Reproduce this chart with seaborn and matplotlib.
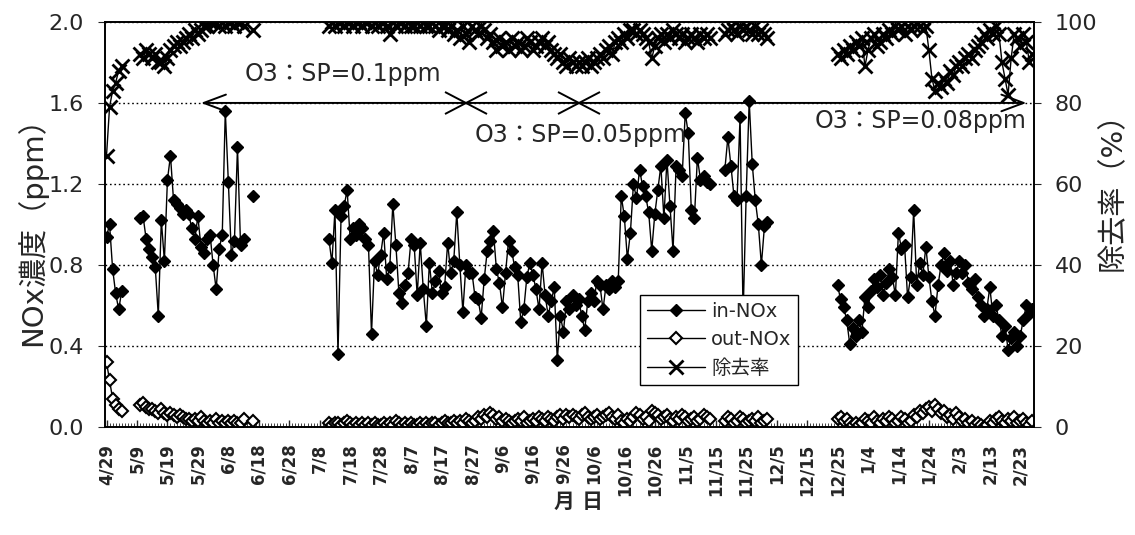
import numpy as np
import pandas as pd
import matplotlib
matplotlib.use("Agg")
import matplotlib.pyplot as plt
import seaborn as sns
from matplotlib.lines import Line2D
from matplotlib.markers import MarkerStyle
from matplotlib.transforms import Affine2D

# ---------------- data (one value per day, 4/29 ... 2/27; None = no data) ----------------
START_DATE = "2001-04-29"
N_DAYS = 305
TICK_LABELS = ["4/29", "5/9", "5/19", "5/29", "6/8", "6/18", "6/28", "7/8", "7/18", "7/28",
               "8/7", "8/17", "8/27", "9/6", "9/16", "9/26", "10/6", "10/16", "10/26", "11/5",
               "11/15", "11/25", "12/5", "12/15", "12/25", "1/4", "1/14", "1/24", "2/3", "2/13",
               "2/23"]
_ = None
IN_NOX = [
    0.94, 1.00, 0.78, 0.66, 0.58, 0.67, _, _, _, _,
    _, 1.03, 1.04, 0.93, 0.88, 0.84, 0.79, 0.55, 1.02, 0.82,
    1.22, 1.34, 1.12, 1.10, 1.08, 1.05, 1.07, 1.05, 0.98, 0.93,
    1.04, 0.89, 0.86, 0.93, 0.95, 0.80, 0.68, 0.88, 0.95, 1.56,
    1.21, 0.85, 0.92, 1.38, 0.90, 0.93, _, _, 1.14, _,
    _, _, _, _, _, _, _, _, _, _,
    _, _, _, _, _, _, _, _, _, _,
    _, _, _, 0.93, 0.81, 1.07, 0.36, 1.04, 1.09, 1.17,
    0.93, 0.98, 0.95, 1.00, 0.98, 0.93, 0.90, 0.46, 0.82, 0.75,
    0.85, 0.96, 0.73, 0.79, 1.10, 0.90, 0.66, 0.61, 0.70, 0.76,
    0.93, 0.90, 0.65, 0.91, 0.68, 0.50, 0.81, 0.66, 0.72, 0.77,
    0.66, 0.69, 0.91, 0.76, 0.82, 1.06, 0.80, 0.57, 0.80, 0.76,
    0.76, 0.64, 0.63, 0.54, 0.73, 0.87, 0.92, 0.97, 0.78, 0.71,
    0.59, 0.76, 0.92, 0.87, 0.79, 0.75, 0.52, 0.58, 0.74, 0.81,
    0.75, 0.68, 0.58, 0.81, 0.65, 0.55, 0.62, 0.69, 0.33, 0.55,
    0.47, 0.62, 0.58, 0.65, 0.60, 0.63, 0.55, 0.48, 0.62, 0.66,
    0.62, 0.72, 0.70, 0.58, 0.70, 0.68, 0.72, 0.69, 0.72, 1.14,
    1.04, 0.83, 0.96, 1.20, 1.13, 1.27, 1.19, 1.14, 1.06, 0.87,
    1.05, 1.17, 1.29, 1.03, 1.32, 1.09, 0.87, 1.29, 1.27, 1.24,
    1.55, 1.45, 1.07, 1.03, 1.33, 1.22, 1.24, 1.21, 1.20, _,
    _, _, _, 1.27, 1.43, 1.29, 1.14, 1.12, 1.53, 0.55,
    1.14, 1.61, 1.30, 1.12, 1.00, 0.80, 0.99, 1.01, _, _,
    _, _, _, _, _, _, _, _, _, _,
    _, _, _, _, _, _, _, _, _, _,
    0.70, 0.63, 0.59, 0.53, 0.41, 0.49, 0.45, 0.53, 0.47, 0.64,
    0.59, 0.67, 0.73, 0.69, 0.75, 0.65, 0.71, 0.78, 0.74, 0.65,
    0.96, 0.88, 0.90, 0.64, 0.74, 1.07, 0.70, 0.81, 0.75, 0.89,
    0.74, 0.62, 0.55, 0.70, 0.80, 0.86, 0.77, 0.82, 0.70, 0.76,
    0.82, 0.76, 0.80, 0.71, 0.68, 0.73, 0.64, 0.60, 0.55, 0.58,
    0.69, 0.55, 0.60, 0.53, 0.45, 0.50, 0.38, 0.44, 0.47, 0.40,
    0.45, 0.53, 0.60, 0.56, 0.58,
]
OUT_NOX = [
    0.32, 0.23, 0.14, 0.11, 0.09, 0.08, _, _, _, _,
    _, 0.11, 0.12, 0.10, 0.09, 0.09, 0.08, 0.07, 0.09, 0.07,
    0.06, 0.07, 0.06, 0.05, 0.06, 0.05, 0.04, 0.04, 0.03, 0.04,
    0.03, 0.05, 0.03, 0.02, 0.03, 0.02, 0.04, 0.02, 0.03, 0.02,
    0.03, 0.02, 0.03, 0.02, 0.02, 0.04, _, _, 0.03, _,
    _, _, _, _, _, _, _, _, _, _,
    _, _, _, _, _, _, _, _, _, _,
    _, _, _, 0.02, 0.01, 0.02, 0.02, 0.01, 0.02, 0.03,
    0.02, 0.01, 0.02, 0.01, 0.02, 0.01, 0.02, 0.01, 0.02, 0.01,
    0.01, 0.02, 0.01, 0.02, 0.01, 0.03, 0.02, 0.01, 0.02, 0.01,
    0.02, 0.01, 0.01, 0.02, 0.01, 0.02, 0.01, 0.02, 0.02, 0.01,
    0.02, 0.03, 0.02, 0.02, 0.03, 0.02, 0.03, 0.02, 0.04, 0.03,
    0.02, 0.03, 0.05, 0.04, 0.06, 0.05, 0.07, 0.06, 0.04, 0.05,
    0.03, 0.04, 0.03, 0.02, 0.03, 0.04, 0.03, 0.05, 0.02, 0.03,
    0.04, 0.03, 0.05, 0.04, 0.03, 0.05, 0.04, 0.03, 0.05, 0.06,
    0.04, 0.06, 0.05, 0.06, 0.05, 0.04, 0.06, 0.07, 0.05, 0.04,
    0.05, 0.06, 0.04, 0.05, 0.06, 0.07, 0.05, 0.04, 0.06, 0.03,
    0.02, 0.04, 0.03, 0.05, 0.07, 0.06, 0.04, 0.05, 0.03, 0.08,
    0.07, 0.06, 0.04, 0.05, 0.06, 0.04, 0.03, 0.05, 0.04, 0.06,
    0.05, 0.03, 0.04, 0.05, 0.03, 0.04, 0.06, 0.05, 0.04, _,
    _, _, _, 0.03, 0.05, 0.04, 0.02, 0.03, 0.05, 0.04,
    0.02, 0.03, 0.04, 0.03, 0.05, 0.02, 0.03, 0.04, _, _,
    _, _, _, _, _, _, _, _, _, _,
    _, _, _, _, _, _, _, _, _, _,
    0.04, 0.05, 0.03, 0.04, 0.02, 0.01, 0.02, 0.01, 0.02, 0.04,
    0.03, 0.02, 0.05, 0.03, 0.02, 0.04, 0.03, 0.05, 0.04, 0.02,
    0.03, 0.05, 0.04, 0.02, 0.03, 0.06, 0.05, 0.08, 0.07, 0.09,
    0.10, 0.08, 0.11, 0.09, 0.07, 0.08, 0.05, 0.06, 0.04, 0.07,
    0.05, 0.03, 0.04, 0.02, 0.03, 0.01, 0.02, 0.01, 0.00, 0.01,
    0.03, 0.02, 0.04, 0.05, 0.03, 0.02, 0.04, 0.03, 0.05, 0.02,
    0.03, 0.04, 0.02, 0.01, 0.03,
]
REMOVAL = [
    67, 79, 83, 85, 88, 89, _, _, _, _,
    _, 92, 91, 93, 92, 91, 92, 90, 90, 89,
    91, 93, 94, 95, 94, 95, 96, 97, 96, 98,
    97, 98, 99, 99, 100, 100, 100, 99, 100, 99,
    100, 100, 99, 100, 100, 99, _, _, 98, _,
    _, _, _, _, _, _, _, _, _, _,
    _, _, _, _, _, _, _, _, _, _,
    _, _, _, 99, 100, 99, 100, 100, 99, 100,
    100, 99, 100, 100, 99, 100, 100, 99, 100, 99,
    100, 100, 99, 97, 100, 99, 100, 100, 99, 100,
    99, 99, 100, 99, 100, 99, 99, 100, 99, 98,
    99, 99, 98, 99, 97, 98, 96, 99, 97, 95,
    99, 98, 97, 99, 98, 96, 97, 95, 93, 96,
    94, 95, 93, 96, 94, 95, 93, 94, 96, 95,
    93, 94, 95, 96, 94, 95, 93, 92, 91, 92,
    90, 89, 91, 90, 89, 90, 89, 90, 91, 89,
    90, 91, 92, 91, 93, 94, 92, 95, 96, 95,
    97, 96, 98, 98, 97, 98, 97, 96, 95, 91,
    94, 96, 97, 95, 97, 96, 98, 97, 96, 97,
    95, 96, 97, 96, 95, 97, 96, 97, 96, _,
    _, _, _, 97, 98, 99, 98, 97, 99, 98,
    99, 98, 97, 99, 97, 98, 97, 96, _, _,
    _, _, _, _, _, _, _, _, _, _,
    _, _, _, _, _, _, _, _, _, _,
    92, 91, 93, 92, 94, 93, 95, 94, 96, 89,
    93, 96, 97, 94, 95, 97, 96, 98, 97, 99,
    98, 99, 97, 99, 98, 99, 100, 99, 98, 99,
    93, 86, 83, 85, 84, 86, 85, 88, 87, 89,
    90, 89, 91, 92, 91, 93, 94, 95, 97, 96,
    98, 97, 99, 97, 90, 86, 82, 91, 97, 96,
    94, 97, 95, 90, 92,
]
SERIES_LABELS = ["in-NOx", "out-NOx", "除去率"]
SP_LABELS = ["O3：SP=0.1ppm", "O3：SP=0.05ppm", "O3：SP=0.08ppm"]
SP_START_DATE = "5/30"      # left end of the arrow
SP_CHANGE_DATES = ["8/25", "10/1"]
SP_END_DATE = "2/25"

# ---------------- helpers ----------------
dates = pd.date_range(START_DATE, periods=N_DAYS, freq="D")
day_index = {f"{d.month}/{d.day}": i for i, d in enumerate(dates)}


def to_frame(values):
    s = pd.Series(values, dtype=float)
    seg = s.isna().cumsum()
    df = pd.DataFrame({"day": np.arange(len(s)), "val": s, "seg": seg})
    return df.dropna()


# ---------------- style ----------------
sns.set_style("ticks")
plt.rcParams["font.family"] = ["DejaVu Sans", "Noto Sans CJK JP"]
plt.rcParams["axes.linewidth"] = 1.2
plt.rcParams["axes.edgecolor"] = "black"

fig = plt.figure(figsize=(11.35, 5.35), dpi=100)
ax = fig.add_axes([0.0925, 0.202, 0.8185, 0.757])
ax2 = ax.twinx()

# ---------------- series ----------------
common = dict(color="black", lw=1.0, estimator=None, units="seg", legend=False, sort=True)
sns.lineplot(data=to_frame(IN_NOX), x="day", y="val", ax=ax, marker="D", ms=6.5,
             mfc="black", mec="black", mew=1.0, **common)
sns.lineplot(data=to_frame(OUT_NOX), x="day", y="val", ax=ax, marker="D", ms=6,
             mfc="white", mec="black", mew=1.5, **common)
sns.lineplot(data=to_frame(REMOVAL), x="day", y="val", ax=ax2, marker="x", ms=10,
             mec="black", mew=2.0, **common)

# ---------------- axes ----------------
ax.set_xlim(-0.5, N_DAYS - 0.5)
ax.set_ylim(0, 2.0)
ax2.set_ylim(0, 100)
ax.set_yticks(np.arange(0, 2.01, 0.4))
ax.set_yticklabels([f"{v:.1f}" for v in np.arange(0, 2.01, 0.4)])
ax2.set_yticks(np.arange(0, 101, 20))
ax.set_xticks(np.arange(0, N_DAYS, 10))
ax.set_xticklabels(TICK_LABELS, rotation=90, fontsize=12, fontweight="bold")
ax.set_xticks(np.arange(0, N_DAYS, 1), minor=True)
ax.tick_params(axis="x", which="major", direction="in", length=5, pad=12, width=1)
ax.tick_params(axis="x", which="minor", direction="in", length=3, width=0.6)
ax.tick_params(axis="y", direction="out", length=5, pad=10, labelsize=16)
ax2.tick_params(axis="y", direction="out", length=5, pad=10, labelsize=16)

ax.yaxis.grid(True, linestyle=(0, (1.2, 2.0)), color="black", lw=1.0)
ax.set_axisbelow(True)

ax.set_xlabel("月 日", fontsize=15, fontweight="bold")
ax.xaxis.set_label_coords(0.51, -0.16)
ax.set_ylabel("NOx濃度（ppm）", fontsize=21)
ax.yaxis.set_label_coords(-0.062, 0.5)
ax2.set_ylabel("除去率（%）", fontsize=21)
ax2.yaxis.set_label_coords(1.07, 0.6)
for sp in ax2.spines.values():
    sp.set_linewidth(1.2)

# ---------------- O3 set-point annotation ----------------
x0 = day_index[SP_START_DATE]
x1 = day_index[SP_END_DATE]
ax.annotate("", xy=(x0, 1.6), xytext=(x1, 1.6), zorder=4,
            arrowprops=dict(arrowstyle="<->, head_length=0.8, head_width=0.3",
                            color="black", lw=1.4, shrinkA=0, shrinkB=0,
                            mutation_scale=20))
cross = MarkerStyle("x", transform=Affine2D().scale(1.9, 1.0))
ax.plot([day_index[d] for d in SP_CHANGE_DATES], [1.6] * len(SP_CHANGE_DATES),
        ls="none", marker=cross, ms=16, mec="black", mew=1.4, zorder=4)
ax.text(45.5, 1.745, SP_LABELS[0], fontsize=17, va="center", ha="left")
ax.text(121, 1.44, SP_LABELS[1], fontsize=17, va="center", ha="left")
ax.text(232.5, 1.51, SP_LABELS[2], fontsize=17, va="center", ha="left")

# ---------------- legend ----------------
handles = [
    Line2D([], [], color="black", lw=1.0, marker="D", ms=6.5, mfc="black", mec="black"),
    Line2D([], [], color="black", lw=1.0, marker="D", ms=6, mfc="white", mec="black", mew=1.5),
    Line2D([], [], color="black", lw=1.0, marker="x", ms=10, mec="black", mew=2.0),
]
leg = ax2.legend(handles, SERIES_LABELS, loc="lower left", bbox_to_anchor=(0.576, 0.104),
                 frameon=True, fancybox=False, edgecolor="black", framealpha=1,
                 fontsize=14, handlelength=3.0, borderpad=0.35, labelspacing=0.5,
                 handletextpad=0.3, borderaxespad=0)
leg.get_frame().set_linewidth(1.0)

fig.savefig("out.png", dpi=100)
